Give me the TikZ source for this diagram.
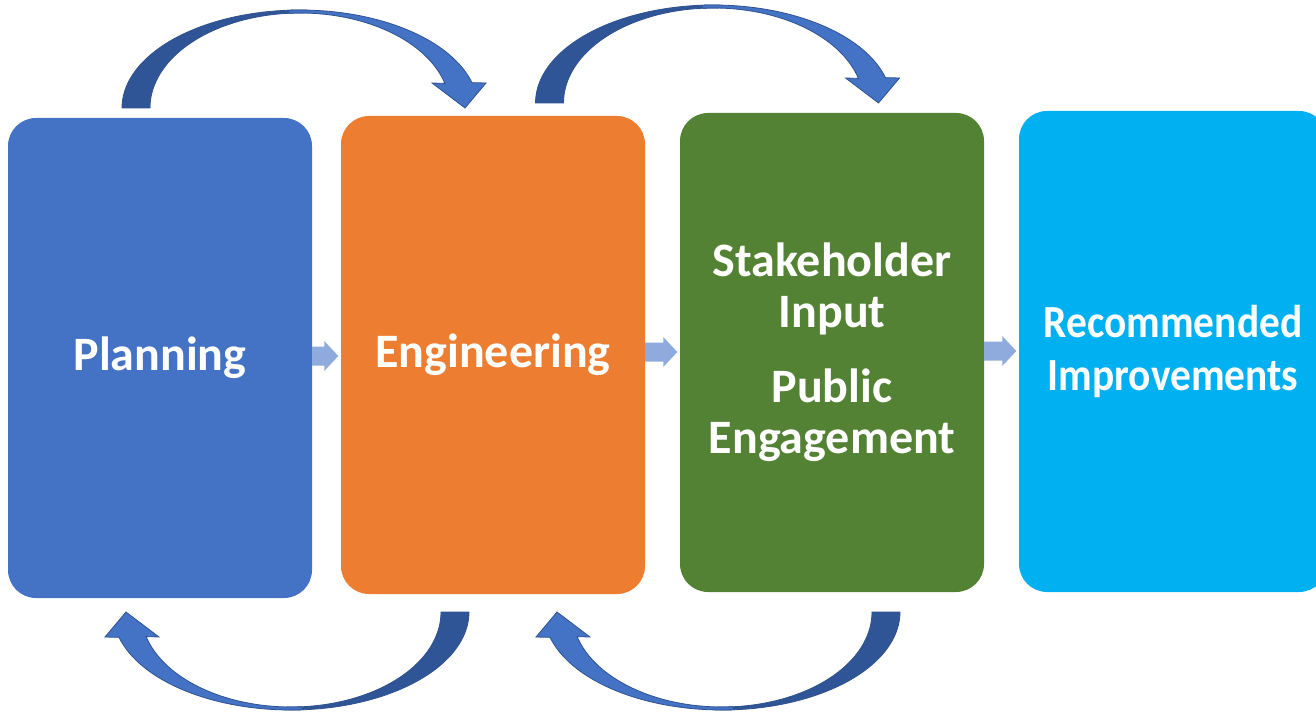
\documentclass[tikz,border=0pt]{standalone}
\usepackage{fontspec}
\usepackage{graphicx}
\setmainfont{Carlito}
\usetikzlibrary{calc}

\definecolor{planblue}{HTML}{4472C4}
\definecolor{engorange}{HTML}{ED7D31}
\definecolor{stakegreen}{HTML}{548235}
\definecolor{reccyan}{HTML}{00B0F0}
\definecolor{gapblue}{HTML}{8FAADC}
\definecolor{ribbondark}{HTML}{2F5597}
\definecolor{ribbonline}{HTML}{2F528F}

\tikzset{
  stage/.style={rounded corners=28pt, minimum width=304pt, minimum height=480pt,
    inner sep=0pt, text=white, align=center, font=\fontsize{48}{51}\selectfont\bfseries},
  gap arrow/.style={fill=gapblue},
  ribbon back/.style={fill=ribbondark, draw=ribbonline, line width=0.8pt},
  ribbon front/.style={fill=planblue, draw=ribbonline, line width=0.8pt}
}

% block arrow between two boxes
\newcommand{\gaparrow}[3]{%
  \coordinate (gs) at ([yshift=#3]#1.east);
  \coordinate (ge) at ($(gs -| #2.west)+(-2.5,0)$);
  \fill[gap arrow] ($(gs)+(0,-9.5)$) -- ($(ge)+(-14,-9.5)$) -- ($(ge)+(-14,-15)$) -- (ge)
    -- ($(ge)+(-14,15)$) -- ($(ge)+(-14,9.5)$) -- ($(gs)+(0,9.5)$) -- cycle;
}

% curved ribbon arrow, drawn from its tail at (0,0)
\newcommand{\ribbon}{%
  \filldraw[ribbon back] plot[domain=180:272,samples=40] ({164+178*cos(\x)},{98*sin(\x)})
    -- plot[domain=272:180,samples=40] ({164+150*cos(\x)},{95*sin(\x)}) -- cycle;
  \filldraw[ribbon front] plot[domain=266:345,samples=40] ({164+178*cos(\x)},{98*sin(\x)})
    -- (350,-25) -- (329,0) -- (296,-25)
    -- plot[domain=345:266,samples=40] ({164+150*cos(\x)},{95*sin(\x)}) -- cycle;
}

\begin{document}
\begin{tikzpicture}[x=1pt,y=-1pt]
\useasboundingbox (0,0) rectangle (1316,714);

\node[stage, fill=planblue] (plan) at (160,358) {Planning};
\node[stage, fill=engorange, minimum height=478pt] (eng) at (493,355) {Engineering};
\node[stage, fill=stakegreen, minimum height=479pt] (stake) at (832,352.5) {Stakeholder\\Input\\[24pt]Public\\Engagement};
\node[stage, fill=reccyan, minimum width=308pt, minimum height=481pt,
  font=\fontsize{46}{53}\selectfont\bfseries] (rec) at (1173,351.5)
  {\scalebox{0.9}[1]{Recommended}\\\scalebox{0.9}[1]{Improvements}};

\gaparrow{plan}{eng}{2}
\gaparrow{eng}{stake}{3}
\gaparrow{stake}{rec}{1.5}

% loop arrows
\coordinate (tail1) at (136,108);
\coordinate (tail2) at (549.5,103);
\coordinate (tail3) at (455,612);
\coordinate (tail4) at (886,612);

\begin{scope}[shift={(tail1)}] \ribbon \end{scope}
\begin{scope}[shift={(tail2)}] \ribbon \end{scope}
\begin{scope}[shift={(tail3)}, rotate=180] \ribbon \end{scope}
\begin{scope}[shift={(tail4)}, rotate=180] \ribbon \end{scope}

\end{tikzpicture}
\end{document}
